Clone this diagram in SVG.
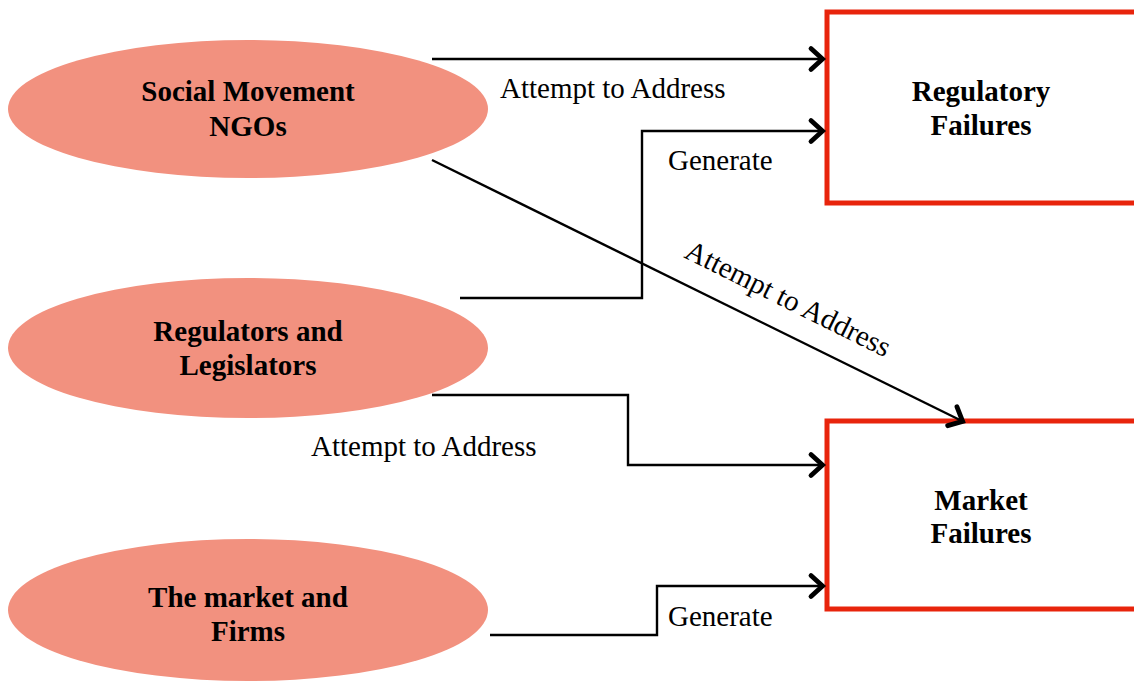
<svg xmlns="http://www.w3.org/2000/svg" width="1134" height="682" viewBox="0 0 1134 682">
<defs>
<style>
.node-e{fill:#f2917f;stroke:none}
.node-r{fill:#ffffff;stroke:#e8240c;stroke-width:5}
.title{font-family:"Liberation Serif","Times New Roman",serif;font-weight:bold;font-size:29px;fill:#000;text-anchor:middle}
.lbl{font-family:"Liberation Serif","Times New Roman",serif;font-size:29px;fill:#000}
.conn{fill:none;stroke:#000;stroke-width:2.4}
</style>
<marker id="arr" markerUnits="userSpaceOnUse" markerWidth="30" markerHeight="30" viewBox="-15 -15 30 30" refX="0" refY="0" orient="auto" overflow="visible">
<path d="M -13 -10.5 L -1.5 0 L -13 10.5" fill="none" stroke="#000" stroke-width="4.8" stroke-linecap="round" stroke-linejoin="miter"/>
</marker>
</defs>
<rect width="1134" height="682" fill="#ffffff"/>
<g id="social-movement-ngos">
<ellipse class="node-e" cx="248" cy="109" rx="240" ry="69"/>
<text class="title" x="248" y="101">Social Movement</text>
<text class="title" x="248" y="136">NGOs</text>
</g>
<g id="regulators-legislators">
<ellipse class="node-e" cx="248" cy="348" rx="240" ry="70"/>
<text class="title" x="248" y="341">Regulators and</text>
<text class="title" x="248" y="375">Legislators</text>
</g>
<g id="market-firms">
<ellipse class="node-e" cx="248" cy="610" rx="240" ry="71"/>
<text class="title" x="248" y="607">The market and</text>
<text class="title" x="248" y="641">Firms</text>
</g>
<g id="regulatory-failures">
<rect class="node-r" x="827" y="12" width="312" height="191"/>
<text class="title" x="981" y="101">Regulatory</text>
<text class="title" x="981" y="135">Failures</text>
</g>
<g id="market-failures">
<rect class="node-r" x="827" y="421" width="312" height="188"/>
<text class="title" x="981" y="510">Market</text>
<text class="title" x="981" y="543">Failures</text>
</g>
<g id="connectors">
<path class="conn" d="M 432 59 L 824 59" marker-end="url(#arr)"/>
<path class="conn" d="M 460 298 L 642 298 L 642 131 L 824 131" marker-end="url(#arr)"/>
<path class="conn" d="M 432 160 L 964 422" marker-end="url(#arr)"/>
<path class="conn" d="M 432 395 L 628 395 L 628 465 L 824 465" marker-end="url(#arr)"/>
<path class="conn" d="M 490 635 L 657 635 L 657 586 L 824 586" marker-end="url(#arr)"/>
<text class="lbl" x="500" y="98">Attempt to Address</text>
<text class="lbl" x="668" y="170">Generate</text>
<text class="lbl" x="683" y="257" transform="rotate(26.5 683 257)">Attempt to Address</text>
<text class="lbl" x="311" y="456">Attempt to Address</text>
<text class="lbl" x="668" y="626">Generate</text>
</g>
</svg>
